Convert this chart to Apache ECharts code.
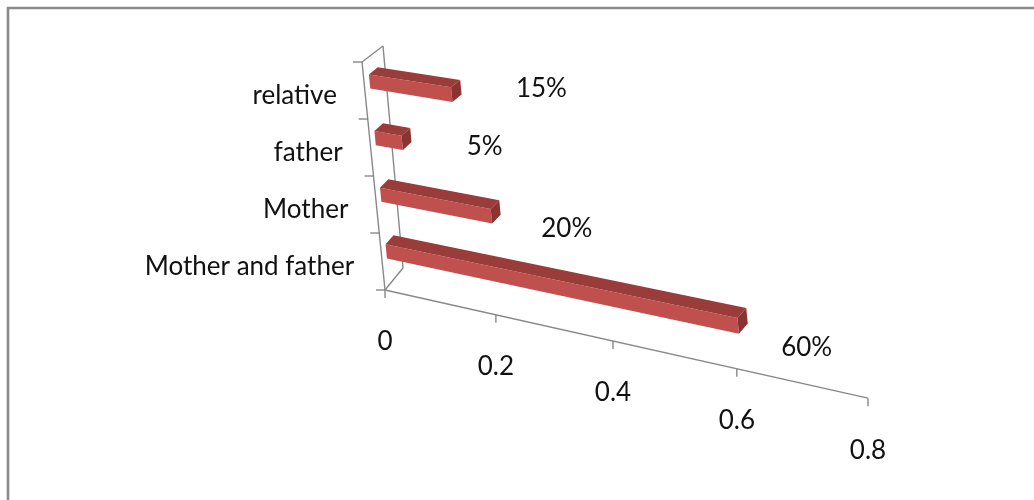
<!DOCTYPE html>
<html>
<head>
<meta charset="utf-8">
<script src="https://cdn.jsdelivr.net/npm/echarts@6/dist/echarts.min.js"></script>
<style>
html,body{margin:0;padding:0;background:#fff;}
#chart{width:1034px;height:500px;}
</style>
</head>
<body>
<div id="chart"></div>
<script>
// ---- data ----
const categories = ['Mother and father', 'Mother', 'father', 'relative'];
const shares = [0.6, 0.2, 0.05, 0.15];
const shareLabels = ['60%', '20%', '5%', '15%'];
const axisTicks = [0, 0.2, 0.4, 0.6, 0.8];
const axisTickLabels = ['0', '0.2', '0.4', '0.6', '0.8'];

// ---- pseudo-3D projection style ----
const ORIGIN = [385, 290];
const FLOOR_SLOPE = 0.224;
const PX_PER_STEP = 107.96;
const PERSP = 0.02647;
const VP_DIST = 3203;
const BAND_VEC = [-5.75, -57];
const DEPTH_BASE = [18, -22];
const DEPTH_GROW = [0.75, 1.5];
const BAR_W = [-0.04, 0.21];   // relative to band centre
const BAR_D = [0.25, 0.68];
const FONT = '26px Lato, "Open Sans", sans-serif';
const AXIS_COLOR = '#888888';

function frame(api) {
  const c0 = api.coord([0, 0]);
  const step = api.size([0.2, 0])[0];
  const band = api.size([0, 1])[1];
  return { c0, step, band };
}
function toModel(api, value, cat) {
  const f = frame(api);
  const p = api.coord([value, cat]);
  return [(p[0] - f.c0[0]) / f.step, 0.5 + (f.c0[1] - p[1]) / f.band];
}
function project(t, w, d) {
  const X = PX_PER_STEP * t / (1 - PERSP * t);
  const h = 1 + X / VP_DIST;
  const dx = DEPTH_BASE[0] + DEPTH_GROW[0] * w;
  const dy = DEPTH_BASE[1] + DEPTH_GROW[1] * w;
  const cx = BAND_VEC[0] * w + dx * d;
  const cy = BAND_VEC[1] * w + dy * d;
  return [ORIGIN[0] + X + cx * h, ORIGIN[1] + FLOOR_SLOPE * X + cy * h];
}
function seg(a, b, color, width) {
  return { type: 'line', shape: { x1: a[0], y1: a[1], x2: b[0], y2: b[1] },
           style: { stroke: color || AXIS_COLOR, lineWidth: width || 1.4 } };
}

const chart = echarts.init(document.getElementById('chart'), null, { renderer: 'canvas' });

const option = {
  animation: false,
  backgroundColor: '#ffffff',
  graphic: [{
    type: 'rect', shape: { x: 8, y: 8, width: 1200, height: 700 },
    style: { fill: 'none', stroke: '#8a8a8a', lineWidth: 2.6 }, silent: true
  }],
  grid: { left: 0, top: 0, width: 500, height: 400, show: false },
  xAxis: { type: 'value', min: 0, max: 0.8, interval: 0.2, show: false },
  yAxis: { type: 'category', data: categories, show: false },
  series: [
    { // walls, floor edge and category ticks
      type: 'custom', clip: false, silent: true,
      data: [[0, 0]],
      renderItem: function (params, api) {
        const tMax = toModel(api, 0.8, 0)[0];
        const wTop = toModel(api, 0, categories.length - 1)[1] + 0.5;
        const ch = [
          seg(project(0, 0, 0), project(0, wTop, 0)),
          seg(project(0, 0, 1), project(0, wTop, 1)),
          seg(project(0, wTop, 0), project(0, wTop, 1)),
          seg(project(0, 0, 0), project(0, 0, 1)),
          seg(project(0, 0, 0), project(tMax, 0, 0))
        ];
        for (let i = 0; i <= categories.length; i++) {
          const p = project(0, i, 0);
          ch.push(seg([p[0] - 9, p[1]], p));
        }
        return { type: 'group', children: ch };
      }
    },
    { // value axis ticks and labels
      type: 'custom', clip: false, silent: true,
      data: axisTicks.map(v => [v, 0]),
      renderItem: function (params, api) {
        const t = toModel(api, api.value(0), 0)[0];
        const p = project(t, 0, 0);
        return { type: 'group', children: [
          seg(p, [p[0], p[1] + 8]),
          { type: 'text', x: p[0], y: p[1] + 52,
            style: { text: axisTickLabels[params.dataIndex], font: FONT, fill: '#111',
                     align: 'center', verticalAlign: 'middle' } }
        ]};
      }
    },
    { // category labels
      type: 'custom', clip: false, silent: true,
      data: categories.map((c, i) => [0, i]),
      renderItem: function (params, api) {
        const w = toModel(api, 0, api.value(1))[1];
        const p = project(0, w, 0);
        return { type: 'text', x: p[0] - 28, y: p[1] + 5,
          style: { text: categories[params.dataIndex], font: FONT, fill: '#111',
                   align: 'right', verticalAlign: 'middle' } };
      }
    },
    { // 3D bars
      type: 'custom', clip: false, silent: true,
      data: shares.map((v, i) => [v, i]),
      renderItem: function (params, api) {
        const [t1, wc] = toModel(api, api.value(0), api.value(1));
        const t0 = toModel(api, 0, api.value(1))[0];
        const wa = wc + BAR_W[0], wb = wc + BAR_W[1];
        const d1 = BAR_D[0], d2 = BAR_D[1];
        const P = project;
        const front = [P(t0, wa, d1), P(t1, wa, d1), P(t1, wb, d1), P(t0, wb, d1)];
        const top = [P(t0, wb, d1), P(t1, wb, d1), P(t1, wb, d2), P(t0, wb, d2)];
        const end = [P(t1, wa, d1), P(t1, wb, d1), P(t1, wb, d2), P(t1, wa, d2)];
        const wm = (wa + wb) / 2;
        const ec = P(t1, wm, (d1 + d2) / 2);
        return { type: 'group', children: [
          { type: 'polygon', shape: { points: front }, style: { fill: '#c0504d' } },
          { type: 'polygon', shape: { points: top }, style: { fill: '#9a3c3a' } },
          { type: 'polygon', shape: { points: end }, style: { fill: '#8b3331' } },
          { type: 'text', x: ec[0] + 60 + 7 * wm, y: ec[1] + 32 - 9.5 * wm,
            style: { text: shareLabels[params.dataIndex], font: FONT, fill: '#111',
                     align: 'center', verticalAlign: 'middle' } }
        ]};
      }
    }
  ]
};
chart.setOption(option);
</script>
</body>
</html>
